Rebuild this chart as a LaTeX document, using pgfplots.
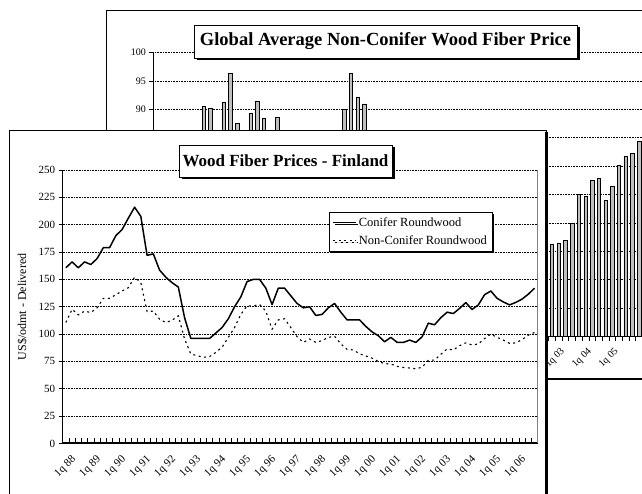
\documentclass[border=0pt]{standalone}
\usepackage{fontspec}
\setmainfont{Liberation Serif}
\usepackage{pgfplots}
\pgfplotsset{compat=1.18}
\usetikzlibrary{shadows}
\begin{document}
\begin{tikzpicture}
\useasboundingbox (0pt,0pt) rectangle (642pt,494pt);
\clip (0pt,0pt) rectangle (642pt,494pt);
% background chart frame
\draw[line width=1pt] (106pt,483.3pt) rectangle (720pt,115pt);
\draw[line width=2pt] (106pt,115pt) -- (720pt,115pt);
\begin{axis}[
 at={(153.3pt,157.3pt)}, anchor=south west, scale only axis,
 width=509.2pt, height=284pt,
 xmin=-0.5, xmax=75.5, ymin=50, ymax=100,
 axis x line*=bottom, axis y line*=left,
 x axis line style={-, line width=1.2pt}, y axis line style={-, line width=1pt},
 ytick={50,55,...,100},
 ymajorgrids, grid style={black, line width=0.8pt, dash pattern=on 0.8pt off 0.8pt},
 ytick align=outside, major tick length=4pt,
 xtick={0,4,...,68},
 xticklabels={1q 88,1q 89,1q 90,1q 91,1q 92,1q 93,1q 94,1q 95,1q 96,1q 97,1q 98,1q 99,1q 00,1q 01,1q 02,1q 03,1q 04,1q 05},
 every major x tick/.append style={draw=none},
 minor xtick={-0.5,0.5,...,75.5}, minor tick length=4pt, xtick align=outside,
 every minor x tick/.append style={black, line width=0.6pt},
 tick style={black, line width=0.6pt},
 yticklabel style={font=\fontsize{10}{12}\selectfont},
 xticklabel style={font=\fontsize{10}{12}\selectfont, rotate=45, anchor=north east, yshift=-2pt},
 /pgf/number format/assume math mode=true,
 ybar, bar width=3.4pt,
]
\addplot[draw=black, line width=0.5pt, fill=gray!50] table {
j v
0 82
1 83
2 84
3 83
4 84
5 85
6 84
7 90.5
8 90.3
9 85
10 91.2
11 96.4
12 87.5
13 85
14 89.3
15 91.4
16 88.4
17 85
18 88.7
19 84
20 83
21 82
22 80
23 81
24 82
25 84
26 85
27 85
28 90
29 96.4
30 92.2
31 91
32 85
33 83
34 82
35 80
36 79
37 78
38 78
39 77
40 76
41 75
42 74
43 73
44 72
45 71
46 70
47 70
48 69
49 68
50 68
51 67
52 67
53 66
54 66
55 65
56 65
57 66
58 66
59 66.2
60 66.5
61 67
62 70
63 75
64 74.7
65 77.6
66 77.9
67 74
68 76.5
69 80.2
70 81.8
71 82.3
72 84.4
};
\end{axis}
\node[draw=black, fill=white, line width=0.8pt, inner sep=0pt, minimum width=383pt, minimum height=33pt,
  drop shadow={shadow xshift=2.5pt, shadow yshift=-2.5pt, fill=black, opacity=1},
  font=\bfseries\fontsize{18.5}{22}\selectfont] at (385.5pt,452.5pt) {Global Average Non-Conifer Wood Fiber Price};
% front chart frame
\filldraw[fill=white, draw=black, line width=1pt] (9pt,363.3pt) rectangle (546pt,-20pt);
\draw[line width=3pt] (546.5pt,362pt) -- (546.5pt,-20pt);
\begin{axis}[
 at={(62.7pt,50.5pt)}, anchor=south west, scale only axis,
 width=475pt, height=273.5pt,
 xmin=-0.5, xmax=75.5, ymin=0, ymax=250, clip=false,
 axis x line*=bottom, axis y line*=left,
 x axis line style={-, line width=2pt}, y axis line style={-, line width=1.3pt},
 ytick={0,25,...,250},
 ymajorgrids, grid style={black, line width=0.8pt, dash pattern=on 0.8pt off 0.8pt},
 ytick align=outside, major tick length=4pt,
 xtick={0,4,...,72},
 xticklabels={1q 88,1q 89,1q 90,1q 91,1q 92,1q 93,1q 94,1q 95,1q 96,1q 97,1q 98,1q 99,1q 00,1q 01,1q 02,1q 03,1q 04,1q 05,1q 06},
 every major x tick/.append style={draw=none},
 minor xtick={-0.5,0.5,...,75.5}, minor tick length=5pt, xtick align=inside,
 every minor x tick/.append style={black, line width=0.7pt},
 tick style={black, line width=0.7pt},
 yticklabel style={font=\fontsize{11}{13}\selectfont},
 xticklabel style={font=\fontsize{11}{13}\selectfont, rotate=45, anchor=north east, yshift=-8pt, xshift=-1pt},
 /pgf/number format/assume math mode=true,
 ylabel={US\$/odmt - Delivered},
 ylabel style={at={(axis description cs:-0.085,0.5)}, anchor=center, font=\fontsize{12}{14}\selectfont},
 legend cell align=left,
 legend style={at={(axis description cs:0.5606,0.8464)}, anchor=north west, draw=black, line width=0.8pt,
   fill=white, font=\fontsize{12.5}{14}\selectfont, inner xsep=3pt, inner ysep=3pt, row sep=4pt,
   drop shadow={shadow xshift=2pt, shadow yshift=-2pt, fill=black, opacity=1}},
 legend image code/.code={\draw[#1] (0pt,0pt) -- (23pt,0pt);},
]
\draw[gray, line width=0.8pt] (axis cs:75.5,0) -- (axis cs:75.5,250);
\addplot[black, line width=1.5pt, line join=round] table[x=i, y=c] {
i c
0 160.6
1 166
2 160.6
3 166
4 163.6
5 169
6 179
7 179
8 190
9 195.5
10 206
11 216
12 207.6
13 172
14 173.3
15 158.5
16 152
17 147
18 143
19 115
20 96
21 96
22 96
23 96
24 101
25 106
26 114
27 125
28 134
29 148
30 150
31 150
32 142
33 127
34 142
35 142
36 135
37 128
38 124
39 125
40 117
41 118
42 124
43 128
44 120
45 113
46 113
47 113
48 107
49 102
50 98.5
51 93
52 97
53 92.5
54 92.4
55 94.5
56 92.4
57 97.5
58 110
59 108.5
60 115
61 120
62 118.8
63 123.5
64 128.8
65 122.5
66 126.7
67 136
68 139.4
69 132.7
70 129.4
71 126.7
72 129
73 132
74 136.5
75 142
};
\addlegendentry{Conifer Roundwood}
\addplot[black, line width=1.1pt, dash pattern=on 2pt off 3.5pt] table[x=i, y=n] {
i n
0 110.6
1 122.7
2 117.6
3 121
4 119.7
5 124
6 132.7
7 132.7
8 136
9 139.4
10 142.4
11 152
12 147
13 120.6
14 121
15 113.6
16 110.6
17 112.7
18 116.7
19 95.5
20 81.8
21 80.3
22 78.8
23 79.4
24 83.3
25 88
26 97
27 106
28 118
29 125.8
30 125.8
31 127
32 121
33 104.5
34 113
35 114
36 106
37 97.6
38 92.4
39 95.5
40 92.4
41 94
42 97
43 98
44 91
45 86
46 85.5
47 82
48 80
49 78
50 75
51 73
52 72.7
53 70.5
54 69.5
55 69
56 68.3
57 69.7
58 76
59 76.3
60 81.5
61 86.4
62 85.5
63 89.4
64 92
65 90
66 91
67 96
68 100
69 97
70 94.5
71 91.5
72 92
73 95
74 99
75 101.5
};
\addlegendentry{Non-Conifer Roundwood}
\end{axis}
\node[draw=black, fill=white, line width=0.8pt, inner sep=0pt, minimum width=213pt, minimum height=32pt,
  drop shadow={shadow xshift=2.5pt, shadow yshift=-2.5pt, fill=black, opacity=1},
  font=\bfseries\fontsize{17}{20}\selectfont] at (285.5pt,333pt) {Wood Fiber Prices - Finland};
\end{tikzpicture}
\end{document}
